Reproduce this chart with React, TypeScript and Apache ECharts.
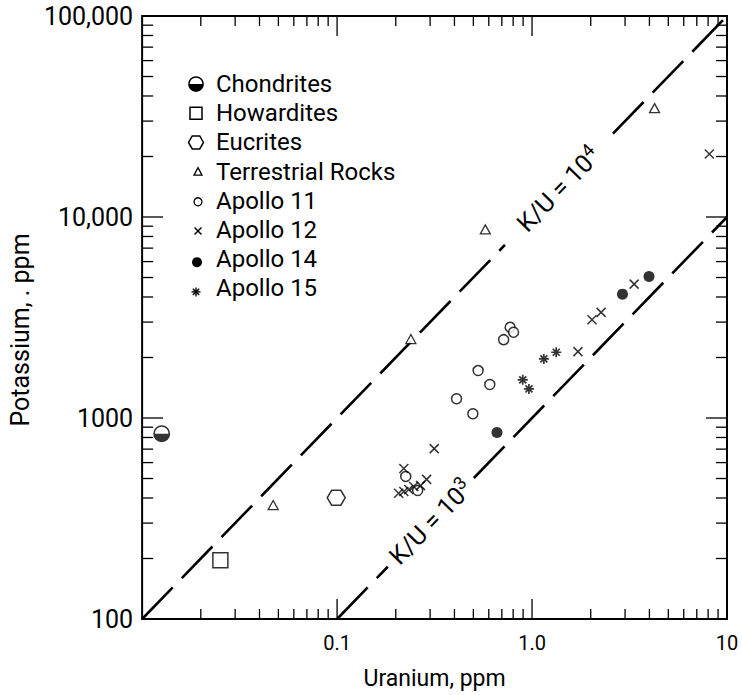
import { useEffect, useRef } from "react";
import * as echarts from "echarts";

// Axis ranges (log scales)
const xMin = 0.01;
const xMax = 10;
const yMin = 100;
const yMax = 100000;

// Tick labels
const xTickValues = [0.01, 0.1, 1, 10];
const xTickLabels = ["", "0.1", "1.0", "10"];
const yTickValues = [100, 1000, 10000, 100000];
const yTickLabels = ["100", "1000", "10,000", "100,000"];

// Tick marks drawn on all four sides of the frame
const xMajorTicks = [0.1, 1];
const xMinorTicks = [
  0.02, 0.03, 0.04, 0.05, 0.06, 0.07, 0.08, 0.09,
  0.2, 0.3, 0.4, 0.5, 0.6, 0.7, 0.8, 0.9,
  2, 3, 4, 5, 6, 7, 8, 9,
];
const yMajorTicks = [1000, 10000];
const yMinorTicks = [
  200, 300, 400, 500, 600, 700, 800, 900,
  2000, 3000, 4000, 5000, 6000, 7000, 8000, 9000,
  20000, 30000, 40000, 50000, 60000, 70000, 80000, 90000,
];

// [uranium ppm, potassium ppm]
const chondrites = [[0.0126, 836]];
const howardites = [[0.0252, 196]];
const eucrites = [[0.099, 401]];
const terrestrialRocks = [
  [0.047, 369],
  [0.239, 2470],
  [0.576, 8680],
  [4.25, 34800],
];
const apollo11 = [
  [0.225, 512],
  [0.259, 436],
  [0.41, 1246],
  [0.497, 1050],
  [0.529, 1722],
  [0.607, 1468],
  [0.715, 2453],
  [0.772, 2826],
  [0.804, 2669],
];
const apollo12 = [
  [0.22, 561],
  [0.207, 422],
  [0.22, 431],
  [0.233, 441],
  [0.247, 456],
  [0.268, 461],
  [0.288, 495],
  [0.315, 704],
  [1.72, 2139],
  [2.03, 3083],
  [2.26, 3354],
  [3.34, 4634],
  [8.12, 20600],
];
const apollo14 = [
  [0.661, 846],
  [2.91, 4133],
  [3.98, 5058],
];
const apollo15 = [
  [0.896, 1548],
  [0.964, 1396],
  [1.15, 1968],
  [1.33, 2124],
];

// Constant K/U ratio lines, broken where their labels sit
const kuLine4Segments = [
  [[0.01, 100], [0.726, 7260]],
  [[2.6, 26000], [10, 100000]],
];
const kuLine3Segments = [
  [[0.1, 100], [0.182, 182]],
  [[0.503, 503], [10, 10000]],
];
const kuLabelPoints = [
  [1.37, 13700],
  [0.303, 303],
];
const kuLabelPowers = ["4", "3"];

const legendNames = [
  "Chondrites",
  "Howardites",
  "Eucrites",
  "Terrestrial Rocks",
  "Apollo 11",
  "Apollo 12",
  "Apollo 14",
  "Apollo 15",
];

const FONT = "Roboto";
const BLACK = "#000";

const HALF_DISC =
  "path://M0,50 A50,50 0 1,1 100,50 A50,50 0 1,1 0,50 Z M90,50 A40,40 0 0,0 10,50 Z";
const HEXAGON = "path://M0,50 L25,0 L75,0 L100,50 L75,100 L25,100 Z";
const CROSS = "path://M0,0 L100,100 M100,0 L0,100";
const STAR = "path://M50,0 L50,100 M0,50 L100,50 M15,15 L85,85 M85,15 L15,85";

function labelFor(values: number[], labels: string[], v: number) {
  for (let i = 0; i < values.length; i++) {
    if (Math.abs(Math.log10(values[i]) - Math.log10(v)) < 1e-6) return labels[i];
  }
  return "";
}

function tickSeries(values: number[], dir: "x" | "y", len: number) {
  return {
    type: "custom",
    silent: true,
    z: 5,
    clip: false,
    data: values.map((v) => (dir === "x" ? [v, yMin] : [xMin, v])),
    encode: { x: 0, y: 1 },
    renderItem: (params: any, api: any) => {
      const cs = params.coordSys;
      const p = api.coord([api.value(0), api.value(1)]);
      const style = { stroke: BLACK, lineWidth: 1.3 };
      if (dir === "x") {
        const x = p[0];
        const b = cs.y + cs.height;
        return {
          type: "group",
          children: [
            { type: "line", shape: { x1: x, y1: b, x2: x, y2: b - len }, style },
            { type: "line", shape: { x1: x, y1: cs.y, x2: x, y2: cs.y + len }, style },
          ],
        };
      }
      const y = p[1];
      const r = cs.x + cs.width;
      return {
        type: "group",
        children: [
          { type: "line", shape: { x1: cs.x, y1: y, x2: cs.x + len, y2: y }, style },
          { type: "line", shape: { x1: r, y1: y, x2: r - len, y2: y }, style },
        ],
      };
    },
  };
}

function ratioLine(segments: number[][][]) {
  return segments.map((seg) => ({
    type: "line",
    silent: true,
    symbol: "none",
    z: 3,
    data: seg,
    lineStyle: { color: BLACK, width: 2.6, type: [44, 13] },
  }));
}

function legendMarker(i: number, cx: number, cy: number): any {
  const outline = { fill: "#fff", stroke: BLACK, lineWidth: 1.5 };
  const ink = { stroke: BLACK, lineWidth: 1.4 };
  switch (i) {
    case 0:
      return {
        type: "group",
        children: [
          { type: "circle", shape: { cx, cy, r: 7 }, style: outline },
          {
            type: "sector",
            shape: { cx, cy, r: 7.5, r0: 0, startAngle: 0, endAngle: Math.PI, clockwise: true },
            style: { fill: BLACK },
          },
        ],
      };
    case 1:
      return { type: "rect", shape: { x: cx - 6, y: cy - 6, width: 12, height: 12 }, style: outline };
    case 2:
      return {
        type: "polygon",
        shape: {
          points: [
            [cx - 7.5, cy],
            [cx - 3.75, cy - 6.5],
            [cx + 3.75, cy - 6.5],
            [cx + 7.5, cy],
            [cx + 3.75, cy + 6.5],
            [cx - 3.75, cy + 6.5],
          ],
        },
        style: outline,
      };
    case 3:
      return {
        type: "polygon",
        shape: { points: [[cx + 2, cy - 4], [cx + 6, cy + 3.5], [cx - 2, cy + 3.5]] },
        style: { ...outline, lineWidth: 1.3 },
      };
    case 4:
      return { type: "circle", shape: { cx: cx + 2, cy: cy + 1, r: 4 }, style: { ...outline, lineWidth: 1.3 } };
    case 5:
      return {
        type: "group",
        children: [
          { type: "line", shape: { x1: cx - 1.5, y1: cy - 2.5, x2: cx + 5.5, y2: cy + 4.5 }, style: ink },
          { type: "line", shape: { x1: cx + 5.5, y1: cy - 2.5, x2: cx - 1.5, y2: cy + 4.5 }, style: ink },
        ],
      };
    case 6:
      return { type: "circle", shape: { cx: cx + 1, cy: cy + 3, r: 5 }, style: { fill: BLACK } };
    default:
      return {
        type: "group",
        children: [
          { type: "line", shape: { x1: cx, y1: cy - 1, x2: cx, y2: cy + 8 }, style: ink },
          { type: "line", shape: { x1: cx - 4.5, y1: cy + 3.5, x2: cx + 4.5, y2: cy + 3.5 }, style: ink },
          { type: "line", shape: { x1: cx - 3.2, y1: cy + 0.3, x2: cx + 3.2, y2: cy + 6.7 }, style: ink },
          { type: "line", shape: { x1: cx + 3.2, y1: cy + 0.3, x2: cx - 3.2, y2: cy + 6.7 }, style: ink },
        ],
      };
  }
}

function buildLegend() {
  const items: any[] = [];
  legendNames.forEach((name, i) => {
    const cy = 84 + i * 29.2;
    items.push(legendMarker(i, 196, cy));
    items.push({
      type: "text",
      x: 216,
      y: cy,
      style: {
        text: name,
        fontSize: 24,
        fontFamily: FONT,
        fill: BLACK,
        align: "left",
        verticalAlign: "middle",
      },
    });
  });
  return items;
}

export default function App() {
  const ref = useRef<HTMLDivElement>(null);

  useEffect(() => {
    if (!ref.current) return;
    const chart = echarts.init(ref.current, undefined, { renderer: "svg" });

    const hollow = { color: "#fff", borderColor: BLACK, borderWidth: 1.5 };

    const option: any = {
      animation: false,
      backgroundColor: "#fff",
      grid: {
        left: 137,
        right: 15,
        top: 16,
        bottom: 74,
        show: true,
        borderColor: BLACK,
        borderWidth: 2,
        backgroundColor: "transparent",
      },
      xAxis: {
        type: "log",
        logBase: 10,
        min: xMin,
        max: xMax,
        name: "Uranium, ppm",
        nameLocation: "middle",
        nameGap: 48,
        nameTextStyle: { fontSize: 23, fontFamily: FONT, color: BLACK },
        axisLine: { show: false },
        axisTick: { show: false },
        splitLine: { show: false },
        axisLabel: {
          margin: 14,
          fontSize: 20,
          fontFamily: FONT,
          color: BLACK,
          showMinLabel: true,
          showMaxLabel: true,
          formatter: (v: number) => labelFor(xTickValues, xTickLabels, v),
        },
      },
      yAxis: {
        type: "log",
        logBase: 10,
        min: yMin,
        max: yMax,
        name: "Potassium, . ppm",
        nameLocation: "middle",
        nameGap: 104,
        nameTextStyle: {
          fontSize: 25,
          fontFamily: FONT,
          color: BLACK,
          padding: [0, 25, 0, 0],
        },
        axisLine: { show: false },
        axisTick: { show: false },
        splitLine: { show: false },
        axisLabel: {
          margin: 9,
          fontSize: 25,
          fontFamily: FONT,
          color: BLACK,
          showMinLabel: true,
          showMaxLabel: true,
          formatter: (v: number) => labelFor(yTickValues, yTickLabels, v),
        },
      },
      graphic: buildLegend(),
      series: [
        tickSeries(xMinorTicks, "x", 10),
        tickSeries(xMajorTicks, "x", 20),
        tickSeries(yMinorTicks, "y", 11),
        tickSeries(yMajorTicks, "y", 21),
        ...ratioLine(kuLine4Segments),
        ...ratioLine(kuLine3Segments),
        {
          type: "scatter",
          silent: true,
          z: 4,
          symbolSize: 1,
          itemStyle: { color: "#fff" },
          data: kuLabelPoints.map((p, i) => ({
            value: p,
            label: { formatter: `{a|K/U = 10}{b|${kuLabelPowers[i]}}` },
          })),
          label: {
            show: true,
            position: "inside",
            rotate: 45.7,
            color: BLACK,
            opacity: 1,
            textBorderWidth: 0,
            rich: {
              a: { fontSize: 25, fontFamily: FONT, color: BLACK, lineHeight: 32, textBorderWidth: 0 },
              b: {
                fontSize: 18,
                fontFamily: FONT,
                color: BLACK,
                verticalAlign: "top",
                lineHeight: 20,
                textBorderWidth: 0,
              },
            },
          },
        },
        {
          name: "Chondrites",
          type: "scatter",
          silent: true,
          z: 6,
          symbol: HALF_DISC,
          symbolSize: 17,
          itemStyle: { color: BLACK, borderWidth: 0 },
          data: chondrites,
        },
        {
          name: "Howardites",
          type: "scatter",
          silent: true,
          z: 6,
          symbol: "rect",
          symbolSize: 15,
          itemStyle: hollow,
          data: howardites,
        },
        {
          name: "Eucrites",
          type: "scatter",
          silent: true,
          z: 6,
          symbol: HEXAGON,
          symbolSize: [18, 15],
          itemStyle: hollow,
          data: eucrites,
        },
        {
          name: "Terrestrial Rocks",
          type: "scatter",
          silent: true,
          z: 6,
          symbol: "triangle",
          symbolSize: [10, 9],
          itemStyle: { ...hollow, borderWidth: 1.3 },
          data: terrestrialRocks,
        },
        {
          name: "Apollo 11",
          type: "scatter",
          silent: true,
          z: 6,
          symbol: "circle",
          symbolSize: 10,
          itemStyle: hollow,
          data: apollo11,
        },
        {
          name: "Apollo 12",
          type: "scatter",
          silent: true,
          z: 6,
          symbol: CROSS,
          symbolSize: 9,
          itemStyle: { color: "rgba(0,0,0,0)", borderColor: BLACK, borderWidth: 1.5 },
          data: apollo12,
        },
        {
          name: "Apollo 14",
          type: "scatter",
          silent: true,
          z: 6,
          symbol: "circle",
          symbolSize: 11,
          itemStyle: { color: BLACK },
          data: apollo14,
        },
        {
          name: "Apollo 15",
          type: "scatter",
          silent: true,
          z: 6,
          symbol: STAR,
          symbolSize: 10,
          itemStyle: { color: "rgba(0,0,0,0)", borderColor: BLACK, borderWidth: 1.7 },
          data: apollo15,
        },
      ],
    };

    chart.setOption(option);
    return () => chart.dispose();
  }, []);

  return (
    <div
      ref={ref}
      style={{ position: "absolute", left: 0, top: 0, width: 742, height: 695, background: "#fff" }}
    />
  );
}
